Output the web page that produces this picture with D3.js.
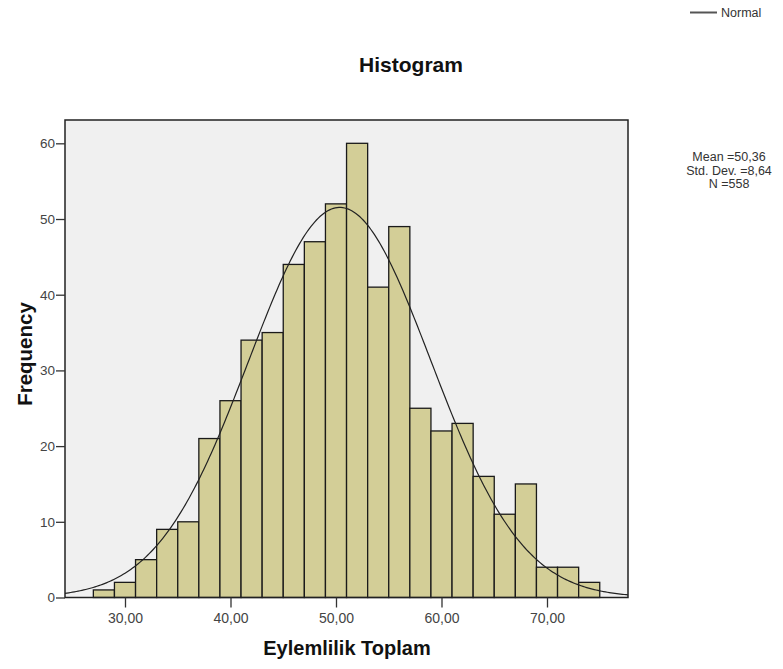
<!DOCTYPE html>
<html>
<head>
<meta charset="utf-8">
<script src="https://cdn.jsdelivr.net/npm/d3@7"></script>
<style>
  html, body { margin: 0; padding: 0; background: #fff; }
  svg { display: block; font-family: "Liberation Sans", Arial, sans-serif; }
</style>
</head>
<body>
<svg id="chart" width="783" height="669"></svg>
<script>
// ---- data ----
const binStarts = [27, 29, 31, 33, 35, 37, 39, 41, 43, 45, 47, 49, 51, 53, 55, 57, 59, 61, 63, 65, 67, 69, 71, 73];
const binWidth = 2;
const frequencies = [1, 2, 5, 9, 10, 21, 26, 34, 35, 44, 47, 52, 60, 41, 49, 25, 22, 23, 16, 11, 15, 4, 4, 2];
const xTicks = [30, 40, 50, 60, 70];
const xTickLabels = ["30,00", "40,00", "50,00", "60,00", "70,00"];
const yTicks = [0, 10, 20, 30, 40, 50, 60];
const statMean = 50.36;
const statSD = 8.64;
const statN = 558;
const statLines = ["Mean =50,36", "Std. Dev. =8,64", "N =558"];

(function () {
// ---- layout ----
const svg = d3.select("#chart");
const pL = 65, pR = 628, pT = 120, pB = 597.5;
const x = d3.scaleLinear().domain([24.313, 77.678]).range([pL, pR]);
const y = d3.scaleLinear().domain([0, 63.08]).range([pB, pT]);

// plot background
svg.append("rect")
  .attr("x", pL).attr("y", pT)
  .attr("width", pR - pL).attr("height", pB - pT)
  .attr("fill", "#f0f0f0");

// bars
svg.append("g").selectAll("rect")
  .data(binStarts.map((s, i) => ({ s, f: frequencies[i] })))
  .join("rect")
  .attr("x", d => x(d.s))
  .attr("y", d => y(d.f))
  .attr("width", d => x(d.s + binWidth) - x(d.s))
  .attr("height", d => y(0) - y(d.f))
  .attr("fill", "#d3ce97")
  .attr("stroke", "#1a1a1a")
  .attr("stroke-width", 1.3);

// normal curve (fitted from mean, sd, N)
const dom = x.domain();
const curvePts = d3.range(0, 301).map(i => {
  const xv = dom[0] + (dom[1] - dom[0]) * i / 300;
  const z = (xv - statMean) / statSD;
  const yv = statN * binWidth * Math.exp(-0.5 * z * z) / (statSD * Math.sqrt(2 * Math.PI));
  return [xv, yv];
});
svg.append("path")
  .attr("d", d3.line().x(d => x(d[0])).y(d => y(d[1]))(curvePts))
  .attr("fill", "none")
  .attr("stroke", "#222")
  .attr("stroke-width", 1.2);

// frame
svg.append("rect")
  .attr("x", pL).attr("y", pT)
  .attr("width", pR - pL).attr("height", pB - pT)
  .attr("fill", "none")
  .attr("stroke", "#222")
  .attr("stroke-width", 1.5);

// y axis
const yAxis = d3.axisLeft(y).tickValues(yTicks).tickSize(9).tickPadding(1).tickFormat(d3.format("d"));
const gy = svg.append("g").attr("transform", `translate(${pL},0)`).call(yAxis);
gy.select(".domain").remove();
gy.selectAll("line").attr("stroke", "#333").attr("stroke-width", 1.3);
gy.selectAll("text").attr("font-size", 13.5).attr("fill", "#444")
  .attr("font-family", "Liberation Sans, Arial, sans-serif");

// x axis
const xAxis = d3.axisBottom(x).tickValues(xTicks).tickSize(10).tickPadding(6)
  .tickFormat((d, i) => xTickLabels[i]);
const gx = svg.append("g").attr("transform", `translate(0,${pB})`).call(xAxis);
gx.select(".domain").remove();
gx.selectAll("line").attr("stroke", "#333").attr("stroke-width", 1.3);
gx.selectAll("text").attr("font-size", 14).attr("fill", "#444")
  .attr("font-family", "Liberation Sans, Arial, sans-serif");

// title
svg.append("text")
  .attr("x", 411).attr("y", 72)
  .attr("text-anchor", "middle")
  .attr("font-size", 21).attr("font-weight", "bold").attr("fill", "#111")
  .text("Histogram");

// axis titles
svg.append("text")
  .attr("x", 347).attr("y", 655)
  .attr("text-anchor", "middle")
  .attr("font-size", 20).attr("font-weight", "bold").attr("fill", "#111")
  .text("Eylemlilik Toplam");

svg.append("text")
  .attr("transform", "translate(32,354) rotate(-90)")
  .attr("text-anchor", "middle")
  .attr("font-size", 20.5).attr("font-weight", "bold").attr("fill", "#111")
  .text("Frequency");

// legend
svg.append("line")
  .attr("x1", 690).attr("x2", 717).attr("y1", 12.5).attr("y2", 12.5)
  .attr("stroke", "#555").attr("stroke-width", 2);
svg.append("text")
  .attr("x", 721).attr("y", 17)
  .attr("font-size", 12.5).attr("fill", "#333")
  .text("Normal");

// stats
svg.append("g").selectAll("text")
  .data(statLines)
  .join("text")
  .attr("x", 729)
  .attr("y", (d, i) => 161 + i * 13.5)
  .attr("text-anchor", "middle")
  .attr("font-size", 12.5).attr("fill", "#333")
  .text(d => d);
})();
</script>
</body>
</html>
